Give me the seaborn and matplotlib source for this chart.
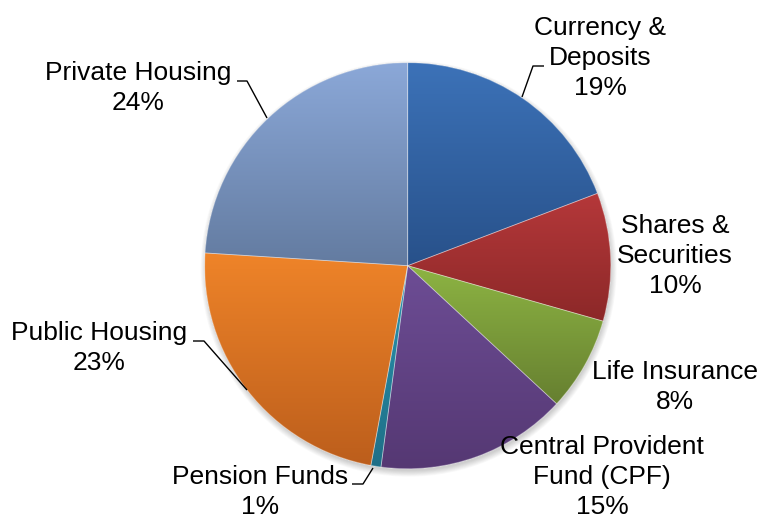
import numpy as np
import matplotlib
matplotlib.use("Agg")
import matplotlib.pyplot as plt
from matplotlib.colors import to_rgb
from matplotlib.patches import Circle, Wedge
import seaborn as sns

# ---- data ----
categories = ["Currency &\nDeposits", "Shares &\nSecurities", "Life Insurance",
              "Central Provident\nFund (CPF)", "Pension Funds", "Public Housing",
              "Private Housing"]
slice_share = [19.2, 10.2, 7.5, 15.2, 0.8, 23.1, 24.0]
pct_labels = ["19%", "10%", "8%", "15%", "1%", "23%", "24%"]
top_colors = ["#3C72B8", "#B5383A", "#8DB443", "#6D4D95", "#2A95B0", "#EF8429", "#8BA8D8"]
bottom_colors = ["#28518A", "#8C2828", "#667F30", "#553873", "#1F6F87", "#BC5E1C", "#637BA0"]

# label layout in pixel coordinates (x, y from top) and leader lines
label_pos = [(600, 58), (675, 256), (675, 387), (602, 477), (260, 492), (99, 348), (138, 88)]
leaders = [
    [(544, 66), (533, 66), (522, 97)],
    None,
    None,
    None,
    [(352, 484), (363, 484), (373, 468)],
    [(193, 341), (204, 341), (247, 390)],
    [(237, 81), (247, 81), (267, 118)],
]

sns.set_theme(style="white")
plt.rcParams["font.family"] = ["Liberation Sans", "DejaVu Sans"]

W, H = 762, 520
fig = plt.figure(figsize=(W / 100, H / 100), dpi=100)
ax = fig.add_axes([0, 0, 1, 1])

cx, cy, R = 407.7, H - 265.7, 203

# soft shadow
for i in range(8):
    ax.add_patch(Circle((cx + 1, cy - 3), R + 5 - i * 0.8, facecolor="black",
                        edgecolor="none", alpha=0.025, zorder=0))

wedges, _ = ax.pie(slice_share, startangle=90, counterclock=False,
                   center=(cx, cy), radius=R,
                   colors=[tuple((np.array(to_rgb(a)) + np.array(to_rgb(b))) / 2)
                           for a, b in zip(top_colors, bottom_colors)],
                   wedgeprops=dict(linewidth=0.6, edgecolor=(1, 1, 1, 0.35)))

# vertical gradient fill per slice
for w, tc, bc in zip(wedges, top_colors, bottom_colors):
    ext = w.get_path().get_extents()
    n = 256
    t = np.linspace(0, 1, n)[:, None]
    grad = (1 - t) * np.array(to_rgb(tc)) + t * np.array(to_rgb(bc))
    img = ax.imshow(grad[:, None, :], extent=(ext.x0, ext.x1, ext.y0, ext.y1),
                    origin="upper", aspect="auto", interpolation="bilinear",
                    zorder=w.get_zorder() + 0.1)
    img.set_clip_path(w)
    edge = Wedge((cx, cy), R, w.theta1, w.theta2, facecolor="none",
                 edgecolor=(1, 1, 1, 0.35), linewidth=0.6, zorder=w.get_zorder() + 0.2)
    ax.add_patch(edge)

for cat, pct, (x, y), ld in zip(categories, pct_labels, label_pos, leaders):
    ax.text(x, H - y, f"{cat}\n{pct}", ha="center", va="center", multialignment="center",
            fontsize=19, color="black", linespacing=1.3, zorder=10)
    if ld:
        xs = [p[0] for p in ld]
        ys = [H - p[1] for p in ld]
        ax.plot(xs, ys, color="black", linewidth=1.0, zorder=10, solid_capstyle="butt")

ax.set_xlim(0, W)
ax.set_ylim(0, H)
ax.set_aspect("auto")
ax.axis("off")
fig.savefig("out.png", dpi=100, facecolor="white")
